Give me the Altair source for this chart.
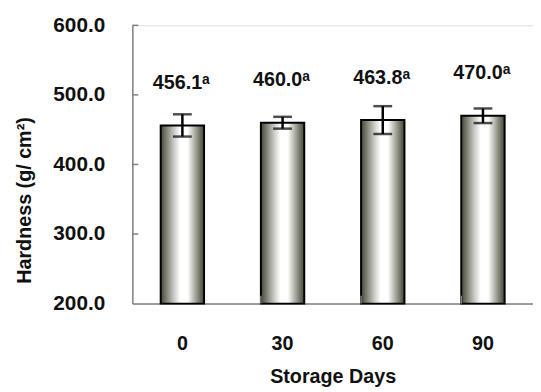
import altair as alt
import pandas as pd

days = ["0", "30", "60", "90"]
hardness = [456.1, 460.0, 463.8, 470.0]
err = [16.0, 8.5, 20.0, 10.5]
labels = ["456.1", "460.0", "463.8", "470.0"]
sups = ["a", "a", "a", "a"]
y_ticks = [300, 400, 500, 600]
x_tick_days = ["30", "60", "90"]

df = pd.DataFrame({
    "day": days,
    "hardness": hardness,
    "lo": [h - e for h, e in zip(hardness, err)],
    "hi": [h + e for h, e in zip(hardness, err)],
    "label": labels,
    "sup": sups,
})
ytick_df = pd.DataFrame({"v": y_ticks})
xtick_df = pd.DataFrame({"day": x_tick_days})

FONT = "Liberation Sans"
W, H = 406, 282

xscale = alt.Scale(domain=days, paddingInner=0.567, paddingOuter=0.283)
yscale = alt.Scale(domain=[200, 600], nice=False)

x_enc = alt.X("day:N", scale=xscale, sort=days,
              axis=alt.Axis(title="Storage Days", labelAngle=0, ticks=False,
                            labelPadding=31, labelFontSize=20, labelFont=FONT,
                            labelFontWeight="bold", labelColor="#111",
                            titleFont=FONT, titleFontSize=20, titleFontWeight="bold",
                            titleColor="#111", titlePadding=13,
                            domainColor="#808080", domainWidth=1.5))
y_enc = alt.Y("hardness:Q", scale=yscale,
              axis=alt.Axis(title="Hardness (g/ cm²)", values=[200, 300, 400, 500, 600],
                            format=".1f", ticks=False, grid=False, labelPadding=28,
                            labelFontSize=21, labelFont=FONT, labelFontWeight="bold",
                            labelColor="#111", titleFont=FONT, titleFontSize=20,
                            titleFontWeight="bold", titleColor="#111",
                            titleX=-109, titleY=177, titleAlign="center",
                            titleBaseline="middle", titleAngle=-90,
                            domainColor="#808080", domainWidth=1.5))

grad = alt.Gradient(
    gradient="linear", x1=0, x2=1, y1=0, y2=0,
    stops=[
        alt.GradientStop(color="#45453a", offset=0),
        alt.GradientStop(color="#7a7a6e", offset=0.12),
        alt.GradientStop(color="#c8c8c4", offset=0.3),
        alt.GradientStop(color="#ffffff", offset=0.45),
        alt.GradientStop(color="#ffffff", offset=0.62),
        alt.GradientStop(color="#b0b0a8", offset=0.78),
        alt.GradientStop(color="#6a6a5c", offset=0.92),
        alt.GradientStop(color="#45453a", offset=1),
    ],
)

base = alt.Chart(df)

bars = base.mark_bar(fill=grad, stroke="#000", strokeWidth=2).encode(
    x=x_enc, y=y_enc, y2=alt.datum(200))

err_line = base.mark_rule(color="#000", strokeWidth=2.5).encode(
    x=alt.X("day:N", scale=xscale, sort=days),
    y=alt.Y("lo:Q", scale=yscale), y2="hi:Q")
cap_hi = base.mark_tick(color="#000", thickness=2.5, size=19).encode(
    x=alt.X("day:N", scale=xscale, sort=days),
    y=alt.Y("hi:Q", scale=yscale))
cap_lo = base.mark_tick(color="#000", thickness=2.5, size=19).encode(
    x=alt.X("day:N", scale=xscale, sort=days),
    y=alt.Y("lo:Q", scale=yscale))

txt = base.mark_text(font=FONT, fontSize=20, fontWeight="bold", color="#111",
                     align="center", baseline="alphabetic", dx=-5, dy=-37).encode(
    x=alt.X("day:N", scale=xscale, sort=days),
    y=alt.Y("hardness:Q", scale=yscale), text="label:N")
sup = base.mark_text(font=FONT, fontSize=14, fontWeight="bold", color="#111",
                     align="left", baseline="alphabetic", dx=20, dy=-42).encode(
    x=alt.X("day:N", scale=xscale, sort=days),
    y=alt.Y("hardness:Q", scale=yscale), text="sup:N")

yt = alt.Chart(ytick_df).mark_rule(color="#808080", strokeWidth=1.5).encode(
    y=alt.Y("v:Q", scale=yscale), x=alt.value(0), x2=alt.value(6))
xt = alt.Chart(xtick_df).mark_rule(color="#808080", strokeWidth=1.5).encode(
    x=alt.X("day:N", scale=xscale, sort=days, bandPosition=0),
    y=alt.value(H), y2=alt.value(H - 8))

chart = alt.layer(bars, err_line, cap_hi, cap_lo, txt, sup, yt, xt).properties(
    width=W, height=H,
    autosize=alt.AutoSizeParams(type="none"),
    padding={"left": 126, "top": 15, "right": 0, "bottom": 86},
).configure_view(stroke=None).configure(background="white")

chart.save("out.html", embed_options={"renderer": "svg", "actions": False})
